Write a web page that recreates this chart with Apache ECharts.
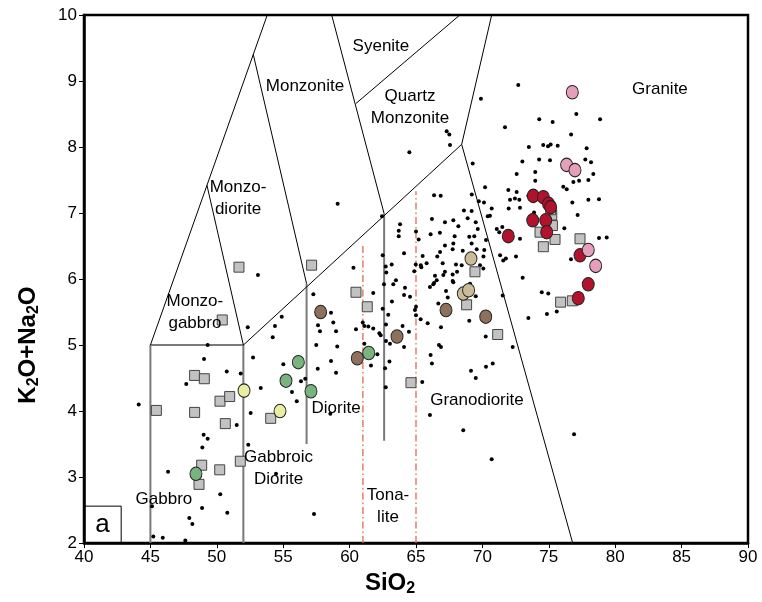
<!DOCTYPE html>
<html>
<head>
<meta charset="utf-8">
<script src="https://cdn.jsdelivr.net/npm/echarts@6/dist/echarts.min.js"></script>
<style>
  html, body { margin: 0; padding: 0; background: #fff; }
  #chart { width: 762px; height: 602px; }
</style>
</head>
<body>
<div id="chart"></div>
<script>
// TAS plutonic classification, SiO2 vs K2O+Na2O

const xTicks = [40, 45, 50, 55, 60, 65, 70, 75, 80, 85, 90];
const yTicks = [2, 3, 4, 5, 6, 7, 8, 9, 10];

// field boundaries (vertices in SiO2 / K2O+Na2O)
const blackLines = [
    [[45, 5], [53.8, 10]],
    [[49.26, 7.42], [52, 5]],
    [[52.75, 9.4], [56.76, 5.93]],
    [[52, 5], [68.44, 8.04]],
    [[58.65, 10], [62.6, 6.99]],
    [[60.48, 8.66], [68.3, 10]],
    [[70.7, 10], [68.44, 8.04], [76.8, 2]],
    [[40, 2.56], [42.8, 2.56], [42.8, 2]]
];
const greyLines = [
    [[45, 2], [45, 5], [52, 5], [52, 2]],
    [[56.76, 5.93], [56.76, 3.5]],
    [[62.6, 6.99], [62.6, 3.55]]
];
const redLines = [
    [[61, 2], [61, 6.5]],
    [[65, 2], [65, 7.33]]
];

const fieldNames = [
    ['Syenite', 62.36, 9.52],
    ['Monzonite', 56.64, 8.92],
    ['Quartz\nMonzonite', 64.55, 8.6],
    ['Granite', 83.37, 8.87],
    ['Monzo-\ndiorite', 51.6, 7.22],
    ['Monzo-\ngabbro', 48.35, 5.49],
    ['Diorite', 58.98, 4.04],
    ['Granodiorite', 69.59, 4.16],
    ['Gabbroic\nDiorite', 54.65, 3.14],
    ['Gabbro', 46.02, 2.67],
    ['Tona-\nlite', 62.89, 2.56]
];

// small black dots (literature data)
const dots = [
    [72.70, 8.94], [69.89, 8.73], [67.31, 8.24], [67.51, 8.19], [67.56, 8.03], [64.50, 7.92],
    [71.70, 8.30], [74.28, 8.42], [75.29, 8.38], [77.07, 8.50], [78.86, 8.42], [76.68, 8.19],
    [73.50, 8.00], [74.58, 8.03], [75.14, 8.04], [74.94, 8.01], [75.67, 8.02], [77.85, 7.98],
    [69.27, 7.75], [73.01, 7.78], [74.27, 7.81], [75.09, 7.80], [77.75, 7.81], [78.18, 7.77],
    [72.58, 7.59], [73.98, 7.62], [73.98, 7.49], [76.85, 7.47], [77.28, 7.49], [77.98, 7.50],
    [78.35, 7.59], [76.09, 7.40], [76.35, 7.36], [70.20, 7.39], [69.20, 7.28], [66.36, 7.27],
    [66.86, 7.26], [71.95, 7.35], [72.58, 7.32], [72.08, 7.20], [72.45, 7.22], [72.78, 7.20],
    [73.46, 7.26], [69.73, 7.18], [70.12, 7.16], [68.61, 7.04], [69.19, 7.03], [70.70, 7.07],
    [71.98, 7.07], [72.83, 7.08], [76.77, 7.16], [77.98, 7.20], [78.78, 7.21], [77.17, 6.97],
    [70.40, 6.95], [70.57, 6.96], [73.89, 7.01], [66.20, 6.91], [67.18, 6.86], [67.81, 6.89],
    [68.19, 6.80], [68.89, 6.92], [69.50, 6.86], [69.65, 6.76], [71.08, 6.76], [71.27, 6.71],
    [71.50, 6.79], [70.27, 6.59], [72.83, 6.61], [76.17, 6.77], [78.78, 6.62], [79.36, 6.63],
    [66.10, 6.68], [66.80, 6.70], [67.18, 6.51], [67.81, 6.54], [69.19, 6.54], [69.57, 6.45],
    [70.14, 6.44], [70.08, 6.34], [71.33, 6.36], [72.53, 6.34], [66.60, 6.34], [67.01, 6.24],
    [68.44, 6.21], [65.50, 6.35], [64.10, 6.39], [64.98, 6.22], [65.36, 6.21], [66.43, 6.05],
    [67.06, 6.06], [67.76, 6.07], [69.01, 6.64], [69.39, 6.65], [67.76, 6.45], [68.52, 6.43],
    [68.01, 6.22], [69.82, 6.21], [70.07, 6.16], [71.57, 6.28], [71.77, 6.31], [73.03, 6.02],
    [67.76, 5.97], [76.67, 6.30], [59.10, 7.14], [62.44, 6.95], [63.80, 6.83], [63.70, 6.73],
    [63.70, 6.65], [65.00, 6.72], [65.20, 6.60], [67.91, 6.65], [66.81, 6.41], [62.49, 6.36],
    [63.17, 6.22], [62.72, 6.19], [62.76, 6.10], [60.29, 6.17], [65.80, 6.24], [65.40, 6.18],
    [64.87, 6.12], [67.18, 6.11], [68.09, 6.11], [63.49, 5.98], [63.29, 5.92], [62.59, 5.92],
    [64.17, 5.87], [66.30, 5.92], [66.05, 5.88], [53.10, 6.06], [61.78, 5.79], [64.10, 5.76],
    [64.55, 5.73], [63.19, 5.66], [62.49, 5.55], [62.91, 5.46], [64.92, 5.53], [65.00, 5.58],
    [65.00, 5.45], [65.35, 5.39], [65.88, 5.33], [66.88, 5.27], [66.36, 5.94], [66.56, 5.98],
    [67.81, 5.95], [67.26, 5.82], [67.39, 5.72], [66.68, 5.63], [69.01, 5.37], [58.60, 5.49],
    [58.77, 5.34], [58.98, 5.21], [59.07, 4.98], [58.60, 4.76], [58.98, 4.58], [60.48, 5.24],
    [60.99, 5.34], [61.11, 5.29], [61.41, 5.28], [61.78, 5.25], [62.24, 5.18], [62.34, 5.15],
    [62.74, 5.31], [63.99, 5.29], [64.47, 5.20], [62.74, 5.06], [63.04, 5.02], [64.10, 4.97],
    [61.11, 5.02], [62.09, 4.86], [63.00, 4.75], [61.61, 4.69], [62.67, 4.65], [66.73, 5.00],
    [66.88, 4.97], [66.10, 4.85], [66.20, 4.72], [62.72, 4.36], [65.47, 4.44], [70.25, 5.13],
    [69.50, 5.74], [69.07, 5.93], [69.14, 4.61], [69.50, 4.50], [70.27, 4.67], [70.78, 4.72],
    [72.28, 4.97], [71.53, 5.75], [73.46, 5.41], [74.47, 5.80], [74.96, 5.78], [74.86, 5.47],
    [75.60, 5.51], [66.05, 3.94], [68.56, 3.71], [70.70, 3.27], [76.90, 3.65], [52.33, 5.27],
    [54.21, 5.12], [54.38, 5.29], [54.89, 5.43], [55.01, 4.71], [52.73, 4.81], [53.31, 4.35],
    [55.66, 4.29], [56.02, 4.15], [56.34, 4.45], [56.66, 4.49], [57.27, 5.77], [57.62, 5.30],
    [57.77, 5.21], [57.49, 5.00], [57.60, 4.64], [52.55, 3.97], [51.80, 4.57], [50.75, 4.60],
    [49.31, 5.00], [49.04, 4.79], [47.70, 4.41], [44.12, 4.10], [51.50, 3.79], [49.01, 3.64],
    [49.31, 3.58], [48.91, 3.45], [52.37, 3.49], [46.33, 3.08], [50.26, 2.74], [48.89, 2.53],
    [45.12, 2.56], [50.79, 2.46], [47.93, 2.38], [48.16, 2.29], [57.32, 2.44], [45.22, 2.10],
    [45.93, 2.08], [47.63, 2.04], [58.55, 3.96], [54.46, 3.05]
];

const greySquares = [
    [51.67, 6.18], [57.14, 6.21], [50.41, 5.38], [48.33, 4.54], [49.06, 4.49], [50.24, 4.15],
    [50.97, 4.22], [45.45, 4.01], [48.33, 3.98], [50.64, 3.81], [54.06, 3.89], [51.77, 3.24],
    [48.86, 3.18], [50.22, 3.11], [48.66, 2.89], [60.48, 5.80], [61.33, 5.58], [64.62, 4.43],
    [68.81, 5.61], [69.44, 6.11], [71.15, 5.16], [75.89, 5.65], [76.77, 5.67], [75.22, 6.97],
    [75.27, 6.81], [74.34, 6.71], [75.47, 6.60], [74.59, 6.49], [77.35, 6.61], [75.14, 7.05]
];
const brownCircles = [[57.82, 5.50], [60.58, 4.80], [63.57, 5.13], [67.26, 5.53], [70.25, 5.43]];
const tanCircles = [[69.14, 6.31], [68.56, 5.78], [68.96, 5.83]];
const greenCircles = [[56.14, 4.74], [55.21, 4.46], [57.09, 4.30], [61.44, 4.88], [48.43, 3.05]];
const paleCircles = [[52.05, 4.31], [54.76, 4.00]];
const redCircles = [
    [73.83, 7.26], [74.59, 7.24], [74.98, 7.14], [75.14, 7.09], [73.79, 6.89], [74.77, 6.89],
    [74.84, 6.71], [71.95, 6.65], [77.35, 6.36], [77.97, 5.92], [77.22, 5.71]
];
const pinkCircles = [[76.77, 8.83], [76.34, 7.73], [76.97, 7.65], [77.97, 6.44], [78.53, 6.20]];

const FONT = 'Liberation Sans, Arial, Helvetica, sans-serif';

let chart = echarts.init(document.getElementById('chart'), null, { renderer: 'canvas' });

function lineSeries(list, color, width, type) {
    return list.map(pts => ({
        type: 'line',
        data: pts,
        symbol: 'none',
        silent: true,
        animation: false,
        lineStyle: { color: color, width: width, type: type || 'solid' },
        z: 2
    }));
}

function circleSeries(data, color) {
    return {
        type: 'scatter',
        data: data,
        symbol: 'circle',
        symbolSize: [12, 13.5],
        itemStyle: { color: color, borderColor: '#222', borderWidth: 1, opacity: 1 },
        z: 5
    };
}

// bold axis title with subscripts
function titleStyle(padding) {
    return {
        fontFamily: FONT, fontSize: 24, fontWeight: 'bold', color: '#000',
        padding: padding,
        rich: { s: { fontFamily: FONT, fontSize: 16, fontWeight: 'bold', padding: [12, 0, 0, 0] } }
    };
}

let option = {
    backgroundColor: '#fff',
    animation: false,
    grid: {
        left: 84, right: 14, top: 15, bottom: 56,
        show: true, borderColor: '#000', borderWidth: 2.5, backgroundColor: 'transparent'
    },
    xAxis: {
        type: 'value', min: 40, max: 90, interval: 5,
        name: 'SiO{s|2}',
        nameLocation: 'middle',
        nameGap: 25,
        nameTextStyle: titleStyle([0, 52, 0, 0]),
        axisLine: { onZero: false, lineStyle: { color: '#000', width: 2.5 } },
        axisTick: { show: true, inside: false, length: 5, lineStyle: { color: '#000', width: 1 } },
        axisLabel: { fontFamily: FONT, fontSize: 17, color: '#000', margin: 6 },
        splitLine: { show: false }
    },
    yAxis: {
        type: 'value', min: 2, max: 10, interval: 1,
        name: 'K{s|2}O+Na{s|2}O',
        nameLocation: 'middle',
        nameGap: 42,
        nameTextStyle: titleStyle([0, 132, 0, 0]),
        axisLine: { onZero: false, lineStyle: { color: '#000', width: 2.5 } },
        axisTick: { show: true, inside: false, length: 5, lineStyle: { color: '#000', width: 1 } },
        axisLabel: { fontFamily: FONT, fontSize: 17, color: '#000', margin: 7 },
        splitLine: { show: false }
    },
    series: [].concat(
        lineSeries(greyLines, '#7a7a7a', 2),
        lineSeries(blackLines, '#000', 1),
        lineSeries(redLines, '#e0694f', 1.3, [7, 3, 1.5, 3]),
        [{
            type: 'scatter',
            data: dots,
            symbol: 'circle',
            symbolSize: 4,
            itemStyle: { color: '#000', opacity: 1 },
            z: 3
        }, {
            type: 'scatter',
            data: greySquares,
            symbol: 'rect',
            symbolSize: 10,
            itemStyle: { color: '#c2c2c2', borderColor: '#444', borderWidth: 1, opacity: 1 },
            z: 4
        },
            circleSeries(brownCircles, '#8e715d'),
            circleSeries(tanCircles, '#cbbc98'),
            circleSeries(greenCircles, '#78b47e'),
            circleSeries(paleCircles, '#e9eea3'),
            circleSeries(redCircles, '#b3122d'),
            circleSeries(pinkCircles, '#e59fbb'),
        {
            type: 'scatter',
            data: fieldNames.map(f => ({ name: f[0], value: [f[1], f[2]] })),
            symbolSize: 0,
            silent: true,
            itemStyle: { opacity: 1 },
            label: {
                show: true, position: 'inside', formatter: '{b}',
                fontFamily: FONT, fontSize: 17, color: '#000', lineHeight: 22, align: 'center'
            },
            z: 6
        }, {
            type: 'scatter',
            data: [{ name: 'a', value: [41.4, 2.28] }],
            symbolSize: 0,
            silent: true,
            itemStyle: { opacity: 1 },
            label: { show: true, position: 'inside', formatter: '{b}', fontFamily: FONT, fontSize: 26, color: '#000' },
            z: 6
        }]
    )
};

chart.setOption(option);
</script>
</body>
</html>
